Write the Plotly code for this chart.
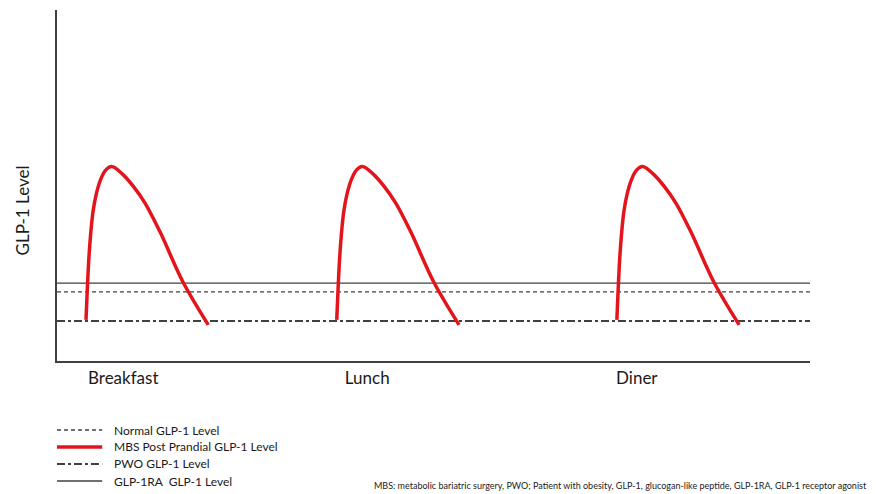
import plotly.graph_objects as go

# Time axis in arbitrary units (0-100), GLP-1 level in arbitrary units (0-100)
meal_labels = ["Breakfast", "Lunch", "Diner"]
meal_label_pos = [8.8, 41.2, 77.0]

normal_level = 19.7
pwo_level = 11.4
glp1ra_level = 22.2
line_x = [0, 100]

# MBS post-prandial curves (one per meal)
mbs_breakfast_x = [3.85, 4.02, 4.22, 4.46, 4.78, 5.22, 5.78, 6.44, 7.26, 8.63, 10.09, 11.69, 13.68, 16.73, 20.09]
mbs_lunch_x = [37.15, 37.32, 37.52, 37.76, 38.08, 38.52, 39.08, 39.74, 40.56, 41.93, 43.39, 44.99, 46.98, 50.03, 53.39]
mbs_diner_x = [74.35, 74.52, 74.72, 74.96, 75.28, 75.72, 76.28, 76.94, 77.76, 79.13, 80.59, 82.19, 84.18, 87.23, 90.59]
mbs_y = [11.7, 20.2, 28.8, 35.9, 42.5, 47.6, 51.6, 54.3, 55.4, 53.4, 49.9, 45.0, 36.8, 22.5, 10.3]

legend_names = ["Normal GLP-1 Level", "MBS Post Prandial GLP-1 Level",
                "PWO GLP-1 Level", "GLP-1RA  GLP-1 Level"]

gray = "#404040"
red = "#E3151C"

styles = {
    "Normal GLP-1 Level": dict(color=gray, width=1.3, dash="4px,3px"),
    "MBS Post Prandial GLP-1 Level": dict(color=red, width=3.5),
    "PWO GLP-1 Level": dict(color=gray, width=2, dash="8px,3px,3px,3px"),
    "GLP-1RA  GLP-1 Level": dict(color=gray, width=1.3),
}

fig = go.Figure()
mbs_x = mbs_breakfast_x + [None] + mbs_lunch_x + [None] + mbs_diner_x
mbs_all_y = mbs_y + [None] + mbs_y + [None] + mbs_y

fig.add_trace(go.Scatter(x=line_x, y=[normal_level] * 2, mode="lines", name=legend_names[0],
                         line=styles[legend_names[0]], showlegend=False))
fig.add_trace(go.Scatter(x=line_x, y=[pwo_level] * 2, mode="lines", name=legend_names[2],
                         line=styles[legend_names[2]], showlegend=False))
fig.add_trace(go.Scatter(x=line_x, y=[glp1ra_level] * 2, mode="lines", name=legend_names[3],
                         line=styles[legend_names[3]], showlegend=False))
fig.add_trace(go.Scatter(x=mbs_x, y=mbs_all_y, mode="lines", name=legend_names[1],
                         line=dict(color=red, width=3.5, shape="spline", smoothing=1.0),
                         connectgaps=False, showlegend=False))

# Manual legend below the plot
legend_rows_y = [-0.1966, -0.245, -0.2934, -0.3419]
shapes = []
annotations = []
for name, yy in zip(legend_names, legend_rows_y):
    st = styles[name]
    shapes.append(dict(type="line", xref="paper", yref="paper", x0=0.0, x1=0.06, y0=yy, y1=yy,
                       line=dict(color=st["color"], width=st["width"], dash=st.get("dash", "solid"))))
    annotations.append(dict(text=name, xref="paper", yref="paper", x=0.073, y=yy,
                            xanchor="left", yanchor="middle", showarrow=False,
                            font=dict(size=12, family="Lato", color="#1a1a1a")))

annotations.append(dict(text="GLP-1 Level", xref="paper", yref="paper", x=-0.046, y=0.43,
                        xanchor="center", yanchor="middle", textangle=-90, showarrow=False,
                        font=dict(size=17, family="Lato", color="#1a1a1a")))
annotations.append(dict(text="MBS: metabolic bariatric surgery, PWO; Patient with obesity, GLP-1, glucogan-like peptide, GLP-1RA, GLP-1 receptor agonist",
                        xref="paper", yref="paper", x=0.418, y=-0.356, xanchor="left", yanchor="middle",
                        showarrow=False, font=dict(size=9.0, family="Lato", color="#1a1a1a")))

fig.update_layout(
    width=876, height=494,
    margin=dict(l=57, r=66, t=10, b=133, autoexpand=False),
    paper_bgcolor="white", plot_bgcolor="white",
    font=dict(family="Lato", color="#1a1a1a"),
    showlegend=False,
    xaxis=dict(range=[0, 100], showgrid=False, zeroline=False, showline=True,
               linecolor=gray, linewidth=1.5, ticks="",
               tickmode="array", tickvals=meal_label_pos, ticktext=meal_labels,
               tickfont=dict(size=17, family="Lato", color="#1a1a1a"), ticklabelstandoff=1),
    yaxis=dict(range=[0, 100], showgrid=False, zeroline=False, showline=True,
               linecolor=gray, linewidth=1.5, showticklabels=False, ticks=""),
    shapes=shapes,
    annotations=annotations,
)

fig.write_html("out.html", config={"displayModeBar": False},
               post_script="document.body.style.margin='0';")
